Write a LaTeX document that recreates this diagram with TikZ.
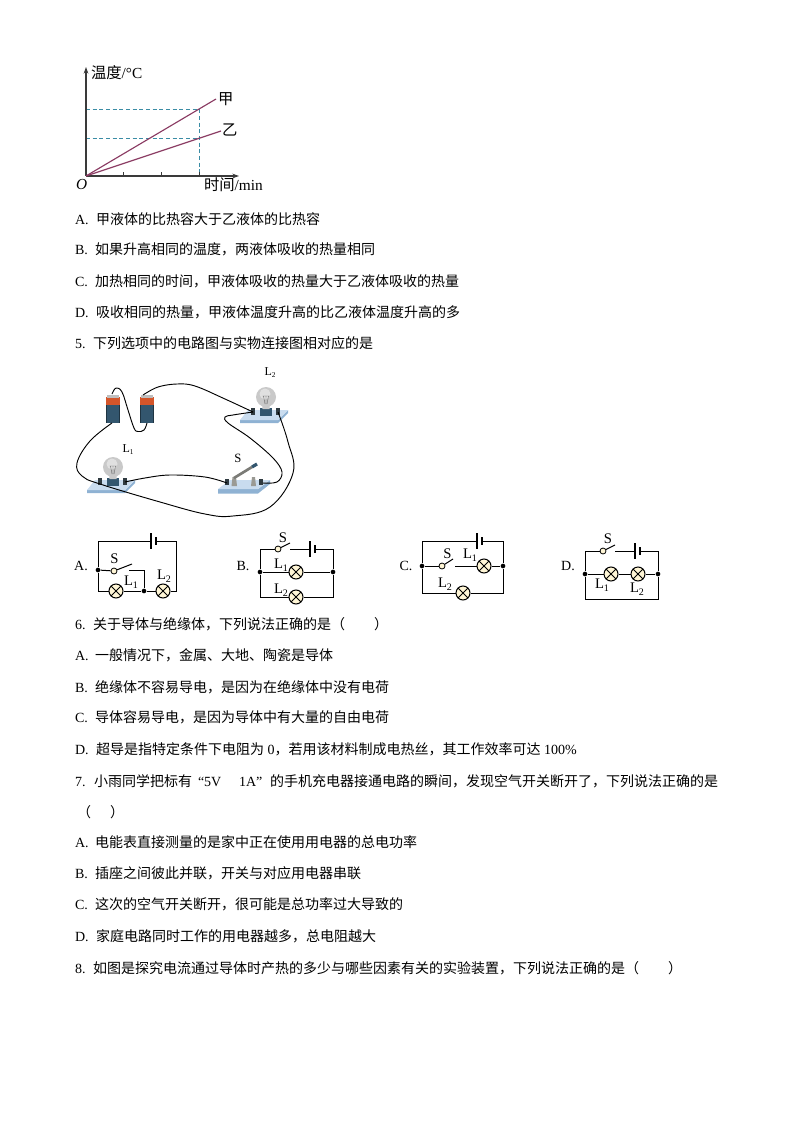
\documentclass[tikz,border=0pt]{standalone}
\usepackage{fontspec}
\setmainfont{Liberation Serif}
\newfontfamily\cjk{Noto Sans CJK SC}
\usetikzlibrary{arrows.meta,calc}
\definecolor{axisgray}{HTML}{3A3A3A}
\definecolor{plotred}{HTML}{8A3A62}
\definecolor{dotblue}{HTML}{3A8CA5}
\definecolor{lampfill}{HTML}{FFF6D6}
\definecolor{boardtop}{HTML}{C9DCEF}
\definecolor{boardside}{HTML}{8FB2D3}
\definecolor{cellbody}{HTML}{33566E}
\definecolor{cellcap}{HTML}{D4552A}
\definecolor{glass}{HTML}{C9C9C9}
\definecolor{termdark}{HTML}{2F3A40}
\definecolor{postgray}{HTML}{9A9A94}
\newcommand\zh[1]{{\cjk #1}}
\newcommand\sz[1]{\fontsize{#1}{#1}\selectfont}
\newcommand\Lab[1]{L\raisebox{-2pt}{\sz{7.5}#1}}
\newcommand\Lbb[1]{L\raisebox{-1.5pt}{\sz{5.5}#1}}
\tikzset{
  txt/.style={anchor=base west,inner sep=0pt,outer sep=0pt,font=\sz{10.5}},
  lab/.style={anchor=center,inner sep=0pt,outer sep=0pt,font=\sz{11}},
  optlab/.style={anchor=center,inner sep=0pt,outer sep=0pt,font=\sz{10.5}},
  chartlab/.style={anchor=base west,inner sep=0pt,outer sep=0pt,font=\sz{11.5}},
  plate/.style={line width=.8pt,black},
  cw/.style={line width=.75pt,black},
  lampnode/.style={circle,draw=black,line width=.75pt,fill=lampfill,minimum size=10.5pt,inner sep=0pt,
    path picture={\draw[line width=.75pt] (path picture bounding box.north west)--(path picture bounding box.south east)
    (path picture bounding box.north east)--(path picture bounding box.south west);}},
  junc/.style={circle,fill=black,minimum size=3.5pt,inner sep=0pt},
  contact/.style={circle,draw=black,line width=.6pt,fill=lampfill,minimum size=4.5pt,inner sep=0pt},
  wire/.style={line width=.7pt,black},
  batterycell/.pic={
    \fill[cellbody] (0,10) rectangle (14,28);
    \fill[cellcap] (0,2) rectangle (14,10);
    \fill[white!75!black] (1,0) rectangle (13,2.5);
    \fill[black!40!cellbody] (0,10) rectangle (1.2,28);
    \fill[black!40!cellbody] (12.8,10) rectangle (14,28);
  },
  lampboard/.pic={
    \fill[boardside] (-26,23) -- (12,23) -- (22,13) -- (22,16) -- (12,26) -- (-26,26) -- cycle;
    \fill[boardtop] (-26,23) -- (12,23) -- (22,13) -- (-18,13) -- cycle;
    \fill[termdark] (-15,11) rectangle (-11,18);
    \fill[termdark] (10,11) rectangle (14,18);
    \fill[cellbody] (-6,11) rectangle (6,19);
    \fill[glass] (-4,6) -- (4,6) -- (3.5,12) -- (-3.5,12) -- cycle;
    \fill[glass] (0,0) circle (10);
    \fill[white!88!black] (-1,-3) circle (5.5);
    \draw[black!60,line width=.3pt] (-3.5,-1) -- (3.5,-1) (-2.5,-1) -- (-1,7) (2.5,-1) -- (1,7) (0,-1) -- (0,7);
  },
  switchboard/.pic={
    \fill[boardside] (218,489) -- (258,489) -- (270,480) -- (270,484) -- (258,493.5) -- (218,493.5) -- cycle;
    \fill[boardtop] (218,489) -- (258,489) -- (270,480) -- (230,480) -- cycle;
    \fill[termdark] (225,479) rectangle (229,485);
    \fill[termdark] (259,479) rectangle (263,485);
    \fill[postgray] (231.5,486) -- (232.5,477) -- (236,477) -- (237,486) -- cycle;
    \fill[postgray] (251,486) -- (252,477) -- (255,477) -- (256,486) -- cycle;
    \draw[postgray!80!black,line width=2pt] (234,478) -- (252,467);
    \draw[cellbody,line width=2.4pt] (252,467) -- (257,464);
  }
}
\begin{document}
\begin{tikzpicture}[x=.75pt,y=-.75pt]
\useasboundingbox (0,0) rectangle (794,1123);
% ---- chart
\coordinate (O) at (86,176);
\coordinate (yTop) at (86,67);
\coordinate (xEnd) at (239,176);
\coordinate (jia) at (216,99);
\coordinate (yi) at (221,131);
\coordinate (t3) at (199,176);
\draw[dotblue,line width=.6pt,densely dashed] (86,109) -- (199,109) -- (t3);
\draw[dotblue,line width=.6pt,densely dashed] (86,138) -- (199,138);
\draw[axisgray,line width=.9pt,-{Stealth[length=5pt,width=3.5pt]}] (O) -- (yTop);
\draw[axisgray,line width=.9pt,-{Stealth[length=5pt,width=3.5pt]}] (O) -- (xEnd);
\draw[axisgray,line width=.6pt] (123,176) -- (123,172.5) (161,176) -- (161,172.5) (199,176) -- (199,172.5);
\draw[plotred,line width=.85pt] (O) -- (jia);
\draw[plotred,line width=.85pt] (O) -- (yi);
\node[chartlab] (ylab) at (91,78.5) {\zh{温度}/°C};
\node[chartlab] (jlab) at (218,105) {\zh{甲}};
\node[chartlab] (ylb2) at (222,136) {\zh{乙}};
\node[chartlab,font=\sz{11.5}\itshape] (olab) at (76,190) {O};
\node[chartlab] (xlab) at (204,191) {\zh{时间}/min};
% ---- text block 1
\node[txt] (t1) at (75,224) {A.}; \node[txt] (t1b) at (96,224) {\zh{甲液体的比热容大于乙液体的比热容}};
\node[txt] (t2) at (75,254) {B.}; \node[txt] (t2b) at (95,254) {\zh{如果升高相同的温度，两液体吸收的热量相同}};
\node[txt] (t3n) at (75,286) {C.}; \node[txt] (t3b) at (95,286) {\zh{加热相同的时间，甲液体吸收的热量大于乙液体吸收的热量}};
\node[txt] (t4) at (75,317) {D.}; \node[txt] (t4b) at (96,317) {\zh{吸收相同的热量，甲液体温度升高的比乙液体温度升高的多}};
\node[txt] (t5) at (75,348) {5.}; \node[txt] (t5b) at (93,348) {\zh{下列选项中的电路图与实物连接图相对应的是}};
% ---- photo circuit
\pic at (106,395) {batterycell};
\pic at (140,395) {batterycell};
\pic at (113,467) {lampboard};
\pic at (266,397) {lampboard};
\pic at (0,0) {switchboard};
\node[lab,font=\sz{9}] (pL2) at (270,373) {\Lbb{2}};
\node[lab,font=\sz{9}] (pL1) at (128,450) {\Lbb{1}};
\node[lab,font=\sz{9.5}] (pS) at (238,458) {S};
\coordinate (c1p) at (112,394); \coordinate (c1n) at (112,423);
\coordinate (c2p) at (143,395); \coordinate (c2n) at (147,423);
\coordinate (l1a) at (100,482); \coordinate (l1b) at (125,482);
\coordinate (l2a) at (253,412); \coordinate (l2b) at (278,412);
\coordinate (sa) at (227,483); \coordinate (sb) at (263,483);
\draw[wire] plot[smooth,tension=.65] coordinates {(c1p) (116,388) (122,392) (128,410) (134,428) (138,431.5) (144,430) (c2n)};
\draw[wire] plot[smooth,tension=.6] coordinates {(c2p) (158,387) (177,384) (195,386) (225,399) (l2a)};
\draw[wire] plot[smooth,tension=.65] coordinates {(c1n) (90,441) (77,463) (82,476) (100,484) (160,502) (205,514) (233,516) (270,507) (293,473) (288,442) (l2b)};
\draw[wire] plot[smooth,tension=.6] coordinates {(l1b) (145,478) (170,475) (205,477) (sa)};
\draw[wire] plot[smooth,tension=.6] coordinates {(sb) (277,482) (282,472) (273,458) (250,438) (228,423) (225,417) (233,415) (l2a)};
% ---- option A
\node[optlab] (oA) at (81,566) {A.};
\node[junc] (Aj1) at (98,570) {};
\node[junc] (Aj2) at (144,591) {};
\node[lampnode] (AL1) at (116,591) {};
\node[lampnode] (AL2) at (163,591) {};
\node[contact] (As) at (114,571) {};
\coordinate (Ab1) at (151,541); \coordinate (Ab2) at (156,541);
\coordinate (Ar) at (176,591); \coordinate (Ablade) at (132,564); \coordinate (Aw) at (129,570);
\draw[cw] (AL1) -- (Aj2) -- (AL2) -- (Ar) |- (Ab2);
\draw[cw] (AL1) -| (Aj1) |- (Ab1);
\draw[cw] (Aj1) -- (As);
\draw[cw] (As) -- (Ablade);
\draw[cw] (Aw) -| (Aj2);
\draw[plate] (151,533) -- (151,549); \draw[plate,line width=1.1pt] (156,537) -- (156,545);
\node[lab] (AS) at (114.5,559) {S};
\node[lab] (ALa) at (131,582) {\Lab{1}};
\node[lab] (ALb) at (164,576) {\Lab{2}};
% ---- option B
\node[optlab] (oB) at (243,566) {B.};
\node[junc] (Bj1) at (260,572) {};
\node[junc] (Bj2) at (333,572) {};
\node[lampnode] (BL1) at (296,572) {};
\node[lampnode] (BL2) at (296,597) {};
\node[contact] (Bs) at (278,549) {};
\coordinate (Bb1) at (310,549); \coordinate (Bb2) at (315,549); \coordinate (Bw) at (290,549); \coordinate (Bblade) at (290,543);
\draw[cw] (Bj1) -- (BL1) -- (Bj2);
\draw[cw] (Bs) -| (Bj1);
\draw[cw] (Bj1) |- (BL2);
\draw[cw] (BL2) -| (Bj2);
\draw[cw] (Bj2) |- (Bb2);
\draw[cw] (Bw) -- (Bb1);
\draw[cw] (Bs) -- (Bblade);
\draw[plate] (310,541) -- (310,557); \draw[plate,line width=1.1pt] (315,545) -- (315,553);
\node[lab] (BS) at (283,538) {S};
\node[lab] (BLa) at (281,565) {\Lab{1}};
\node[lab] (BLb) at (281,590) {\Lab{2}};
% ---- option C
\node[optlab] (oC) at (406,566) {C.};
\node[junc] (Cj1) at (422,566) {};
\node[junc] (Cj2) at (503,566) {};
\node[lampnode] (CL1) at (484,566) {};
\node[lampnode] (CL2) at (463,593) {};
\node[contact] (Cs) at (442,566) {};
\coordinate (Cb1) at (477,541); \coordinate (Cb2) at (482,541); \coordinate (Cw) at (455,566); \coordinate (Cblade) at (453,559);
\draw[cw] (Cj1) -- (Cs); \draw[cw] (Cs) -- (Cblade); \draw[cw] (Cw) -- (CL1); \draw[cw] (CL1) -- (Cj2);
\draw[cw] (Cj1) |- (Cb1); \draw[cw] (Cb2) -| (Cj2);
\draw[cw] (Cj1) |- (CL2); \draw[cw] (CL2) -| (Cj2);
\draw[plate] (477,533) -- (477,549); \draw[plate,line width=1.1pt] (482,537) -- (482,545);
\node[lab] (CS) at (447.5,554) {S};
\node[lab] (CLa) at (470,555) {\Lab{1}};
\node[lab] (CLb) at (445,584) {\Lab{2}};
% ---- option D
\node[optlab] (oD) at (568,566) {D.};
\node[junc] (Dj1) at (585,574) {};
\node[junc] (Dj2) at (658,574) {};
\node[lampnode] (DL1) at (611,574) {};
\node[lampnode] (DL2) at (638,574) {};
\node[contact] (Ds) at (603,551) {};
\coordinate (Db1) at (635,551); \coordinate (Db2) at (640,551); \coordinate (Dw) at (615,551); \coordinate (Dblade) at (615,545); \coordinate (Dbot) at (585,599);
\draw[cw] (Dj1) -- (DL1) -- (DL2) -- (Dj2);
\draw[cw] (Ds) -| (Dj1);
\draw[cw] (Dj1) -- (Dbot) -| (Dj2);
\draw[cw] (Dj2) |- (Db2);
\draw[cw] (Dw) -- (Db1);
\draw[cw] (Ds) -- (Dblade);
\draw[plate] (635,543) -- (635,559); \draw[plate,line width=1.1pt] (640,547) -- (640,555);
\node[lab] (DS) at (608,539) {S};
\node[lab] (DLa) at (602,585) {\Lab{1}};
\node[lab] (DLb) at (637,589) {\Lab{2}};
% ---- text block 2
\node[txt] (q6) at (75,629) {6.}; \node[txt] (q6b) at (93,629) {\zh{关于导体与绝缘体，下列说法正确的是（}}; \node[txt] (q6c) at (374,629) {\zh{）}};
\node[txt] (a6) at (75,660) {A.}; \node[txt] (a6b) at (95,660) {\zh{一般情况下，金属、大地、陶瓷是导体}};
\node[txt] (b6) at (75,692) {B.}; \node[txt] (b6b) at (95,692) {\zh{绝缘体不容易导电，是因为在绝缘体中没有电荷}};
\node[txt] (c6) at (75,722) {C.}; \node[txt] (c6b) at (95,722) {\zh{导体容易导电，是因为导体中有大量的自由电荷}};
\node[txt] (d6) at (75,754) {D.}; \node[txt] (d6b) at (96,754) {\zh{超导是指特定条件下电阻为} 0\zh{，若用该材料制成电热丝，其工作效率可达} 100\%};
\node[txt] (q7) at (75,786) {7.}; \node[txt] (q7b) at (94,786) {\zh{小雨同学把标有}};
\node[txt] (q7v) at (198,786) {“5V}; \node[txt] (q7a) at (239,786) {1A”}; \node[txt] (q7c) at (270,786) {\zh{的手机充电器接通电路的瞬间，发现空气开关断开了，下列说法正确的是}};
\node[txt] (q7p) at (77,817) {\zh{（}}; \node[txt] (q7q) at (110,817) {\zh{）}};
\node[txt] (a7) at (75,847) {A.}; \node[txt] (a7b) at (95,847) {\zh{电能表直接测量的是家中正在使用用电器的总电功率}};
\node[txt] (b7) at (75,878) {B.}; \node[txt] (b7b) at (95,878) {\zh{插座之间彼此并联，开关与对应用电器串联}};
\node[txt] (c7) at (75,909) {C.}; \node[txt] (c7b) at (95,909) {\zh{这次的空气开关断开，很可能是总功率过大导致的}};
\node[txt] (d7) at (75,941) {D.}; \node[txt] (d7b) at (96,941) {\zh{家庭电路同时工作的用电器越多，总电阻越大}};
\node[txt] (q8) at (75,973) {8.}; \node[txt] (q8b) at (93,973) {\zh{如图是探究电流通过导体时产热的多少与哪些因素有关的实验装置，下列说法正确的是（}}; \node[txt] (q8c) at (668,973) {\zh{）}};
\end{tikzpicture}
\end{document}
